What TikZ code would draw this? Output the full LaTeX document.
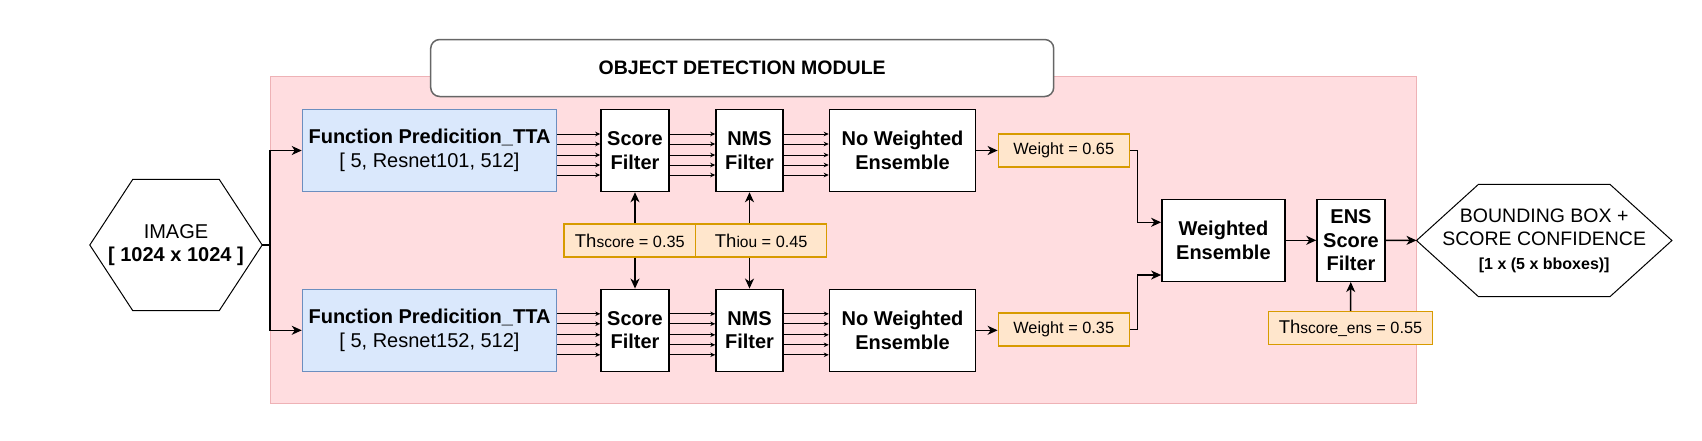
\documentclass[tikz,border=0pt]{standalone}
\usepackage{fontspec}
\setmainfont{Liberation Sans}
\usetikzlibrary{arrows.meta}
\usetikzlibrary{calc}

\definecolor{modpink}{RGB}{255,221,224}
\definecolor{modpinkline}{RGB}{238,178,182}
\definecolor{fpblue}{RGB}{218,232,252}
\definecolor{fpblueline}{RGB}{108,142,191}
\definecolor{thorange}{RGB}{255,230,204}
\definecolor{thorangeline}{RGB}{215,155,0}
\definecolor{titleline}{RGB}{102,102,102}

\newcommand{\boxfont}{\fontsize{20}{23.4}\selectfont}
\newcommand{\smallfont}{\fontsize{16.3}{19}\selectfont}
\newcommand{\thlabel}[2]{{\fontsize{18.5}{20}\selectfont Th}{\fontsize{15.5}{18}\selectfont #1} = #2}

\begin{document}
\begin{tikzpicture}[x=1pt, y=-1pt,
    stagebox/.style={draw, line width=1.5pt, fill=white, inner sep=0pt, align=center,
        font=\boxfont\bfseries, minimum height=82pt},
    fpbox/.style={stagebox, draw=fpblueline, fill=fpblue, font=\boxfont, minimum width=254pt},
    parambox/.style={draw=thorangeline, fill=thorange, line width=1.2pt, inner sep=0pt,
        font=\smallfont, minimum height=33pt},
    arrow/.style={-{Stealth[length=10pt,width=9pt,inset=3pt]}, line width=1.5pt},
    thinarrow/.style={-{Stealth[length=5pt,width=4.5pt,inset=1.5pt]}, line width=1pt},
    hexline/.style={line width=1pt}]
    \useasboundingbox (0,0) rectangle (1702,440);

    \node[draw=modpinkline, fill=modpink, line width=1pt, minimum width=1146pt, minimum height=327pt] (module) at (843,240.4) {};
    \node[draw=titleline, fill=white, line width=1.5pt, rounded corners=9pt, minimum width=623pt, minimum height=57pt,
        font=\fontsize{19.5}{22}\selectfont\bfseries] (title) at (742.2,68) {OBJECT DETECTION MODULE};

    \node[font=\boxfont, align=center, inner sep=0pt, minimum width=172pt, minimum height=131pt] (img) at (176,245)
        {IMAGE\\\textbf{[ 1024 x 1024 ]}};
    \draw[hexline] (img.west) -- ($(img.north west)+(43,0)$) -- ($(img.north east)+(-43,0)$) -- (img.east)
        -- ($(img.south east)+(-43,0)$) -- ($(img.south west)+(43,0)$) -- cycle;

    \node[fpbox] (fp1) at (429.5,150.5) {\textbf{Function Predicition\_TTA}\\{[} 5, Resnet101, 512]};
    \node[fpbox] (fp2) at (429.5,330.3) {\textbf{Function Predicition\_TTA}\\{[} 5, Resnet152, 512]};

    \node[stagebox, minimum width=68pt] (sf1) at (635,150.5) {Score\\Filter};
    \node[stagebox, minimum width=67pt] (nms1) at (749.5,150.5) {NMS\\Filter};
    \node[stagebox, minimum width=146pt] (nwe1) at (902.5,150.5) {No Weighted\\Ensemble};
    \node[stagebox, minimum width=68pt] (sf2) at (635,330.3) {Score\\Filter};
    \node[stagebox, minimum width=67pt] (nms2) at (749.5,330.3) {NMS\\Filter};
    \node[stagebox, minimum width=146pt] (nwe2) at (902.5,330.3) {No Weighted\\Ensemble};

    \node[parambox, minimum width=131.5pt] (thscore) at (629.8,240.5) {\thlabel{score}{0.35}};
    \node[parambox, minimum width=131pt] (thiou) at (761.2,240.5) {\thlabel{iou}{0.45}};

    \node[parambox, minimum width=131pt] (w1) at (1063.7,150.5) {Weight = 0.65};
    \node[parambox, minimum width=131pt] (w2) at (1063.7,329.5) {Weight = 0.35};

    \node[stagebox, minimum width=123pt] (we) at (1223.4,240.3) {Weighted\\Ensemble};
    \node[stagebox, minimum width=68pt] (ens) at (1351,240.3) {ENS\\Score\\Filter};
    \node[parambox, minimum width=164pt] (thens) at (1350.5,328) {\thlabel{score\_ens}{0.55}};

    \node[font=\fontsize{19.5}{23.4}\selectfont, align=center, inner sep=0pt, minimum width=255pt, minimum height=112pt] (out) at (1544.2,240.5)
        {BOUNDING BOX +\\SCORE CONFIDENCE\\\textbf{\fontsize{16}{19}\selectfont [1 x (5 x bboxes)]}};
    \draw[hexline] (out.west) -- ($(out.north west)+(62,0)$) -- ($(out.north east)+(-62,0)$) -- (out.east)
        -- ($(out.south east)+(-62,0)$) -- ($(out.south west)+(62,0)$) -- cycle;

    \coordinate (split) at (270,245);
    \draw[line width=1.5pt] (img.east) -- (split);
    \draw[arrow] (split) |- (fp1.west);
    \draw[arrow] (split) |- (fp2.west);

    \foreach \a/\b in {fp1/sf1, sf1/nms1, nms1/nwe1, fp2/sf2, sf2/nms2, nms2/nwe2}
        \foreach \dy in {16.5,6.5,-4.5,-14.5,-24.5}
            \draw[thinarrow] ([yshift=\dy pt]\a.east) -- ([yshift=\dy pt]\b.west);

    \draw[arrow] (sf1.south |- thscore.north) -- (sf1.south);
    \draw[arrow] (sf2.north |- thscore.south) -- (sf2.north);
    \draw[arrow] (nms1.south |- thiou.north) -- (nms1.south);
    \draw[arrow] (nms2.north |- thiou.south) -- (nms2.north);

    \draw[arrow] (nwe1) -- (w1);
    \draw[arrow] (nwe2.east) -- (nwe2.east -| w2.west);
    \draw[arrow] (w1.east) -- ++(7.5,0) |- ([yshift=18pt]we.west);
    \draw[arrow] (w2.east) -- ++(7.5,0) |- ([yshift=-34.7pt]we.west);
    \draw[arrow] (we) -- (ens);
    \draw[arrow] (ens) -- (out);
    \draw[arrow] (thens) -- (ens);
\end{tikzpicture}
\end{document}
